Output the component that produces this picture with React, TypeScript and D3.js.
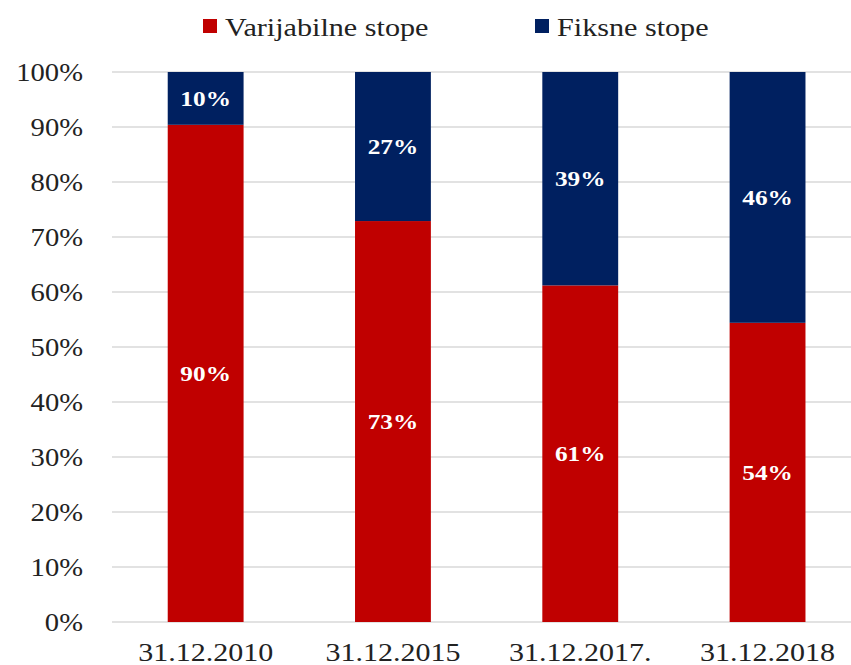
import React, { useRef, useEffect } from 'react';
import * as d3 from 'd3';

const categories = ['31.12.2010', '31.12.2015', '31.12.2017.', '31.12.2018'];
const variableRates = [90.4, 72.9, 61.2, 54.4];
const fixedRates = [9.6, 27.1, 38.8, 45.6];
const seriesNames = ['Varijabilne stope', 'Fiksne stope'];
const yTicks = [0, 10, 20, 30, 40, 50, 60, 70, 80, 90, 100];

const RED = '#c00000';
const NAVY = '#002060';
const FONT = 'Liberation Serif';

const App = () => {
    const ref = useRef<SVGSVGElement | null>(null);

    useEffect(() => {
        if (!ref.current) return;
        document.body.style.margin = '0';

        const width = 851;
        const height = 665;
        const left = 112;
        const top = 72;
        const bottom = 622;

        const svg = d3.select(ref.current);
        svg.selectAll('*').remove();
        svg.attr('width', width).attr('height', height);

        const x = d3.scaleBand<string>()
            .domain(categories)
            .range([left, left + 4 * 187.3])
            .paddingInner(0.595)
            .paddingOuter(0.2975);
        const y = d3.scaleLinear().domain([0, 100]).range([bottom, top]);

        // gridlines
        svg.append('g')
            .selectAll('line')
            .data(yTicks)
            .enter()
            .append('line')
            .attr('x1', left)
            .attr('x2', width)
            .attr('y1', d => y(d))
            .attr('y2', d => y(d))
            .attr('stroke', '#d9d9d9')
            .attr('stroke-width', 1.5);

        // y tick labels
        svg.append('g')
            .selectAll('g')
            .data(yTicks)
            .enter()
            .append('g')
            .attr('transform', d => `translate(83,${y(d)}) scale(1.1,1)`)
            .append('text')
            .attr('text-anchor', 'end')
            .attr('dy', '0.34em')
            .attr('font-family', FONT)
            .attr('font-size', 26)
            .attr('fill', '#222')
            .text(d => `${d}%`);

        // x labels
        svg.append('g')
            .selectAll('g')
            .data(categories)
            .enter()
            .append('g')
            .attr('transform', d => `translate(${(x(d) as number) + x.bandwidth() / 2},661) scale(1.2,1)`)
            .append('text')
            .attr('text-anchor', 'middle')
            .attr('font-family', FONT)
            .attr('font-size', 25)
            .attr('fill', '#222')
            .text(d => d);

        const rows = categories.map((c, i) => ({ c, v: variableRates[i], f: fixedRates[i] }));

        // stacked bars
        const bars = svg.append('g');
        bars.selectAll('rect.var')
            .data(rows)
            .enter()
            .append('rect')
            .attr('class', 'var')
            .attr('x', d => x(d.c) as number)
            .attr('width', x.bandwidth())
            .attr('y', d => y(d.v))
            .attr('height', d => y(0) - y(d.v))
            .attr('fill', RED);
        bars.selectAll('rect.fix')
            .data(rows)
            .enter()
            .append('rect')
            .attr('class', 'fix')
            .attr('x', d => x(d.c) as number)
            .attr('width', x.bandwidth())
            .attr('y', d => y(d.v + d.f))
            .attr('height', d => y(d.v) - y(d.v + d.f))
            .attr('fill', NAVY);

        // data labels
        const labels = [
            ...rows.map(d => ({ c: d.c, mid: d.v / 2, val: d.v })),
            ...rows.map(d => ({ c: d.c, mid: d.v + d.f / 2, val: d.f })),
        ];
        svg.append('g')
            .selectAll('g')
            .data(labels)
            .enter()
            .append('g')
            .attr('transform', d => `translate(${(x(d.c) as number) + x.bandwidth() / 2},${y(d.mid)}) scale(1.15,1)`)
            .append('text')
            .attr('text-anchor', 'middle')
            .attr('dy', '0.35em')
            .attr('font-family', FONT)
            .attr('font-size', 22)
            .attr('font-weight', 'bold')
            .attr('fill', '#fff')
            .text(d => `${Math.round(d.val)}%`);

        // legend
        const legendX = [203, 535];
        const legend = svg.append('g')
            .selectAll('g')
            .data(seriesNames)
            .enter()
            .append('g')
            .attr('transform', (d, i) => `translate(${legendX[i]},0)`);
        legend.append('rect')
            .attr('x', 0)
            .attr('y', 19)
            .attr('width', 14)
            .attr('height', 14)
            .attr('fill', (d, i) => (i === 0 ? RED : NAVY));
        legend.append('g')
            .attr('transform', 'translate(22,36) scale(1.16,1)')
            .append('text')
            .attr('font-family', FONT)
            .attr('font-size', 26)
            .attr('fill', '#222')
            .text(d => d);
    }, []);

    return <svg ref={ref} style={{ display: 'block' }} />;
};

export default App;
